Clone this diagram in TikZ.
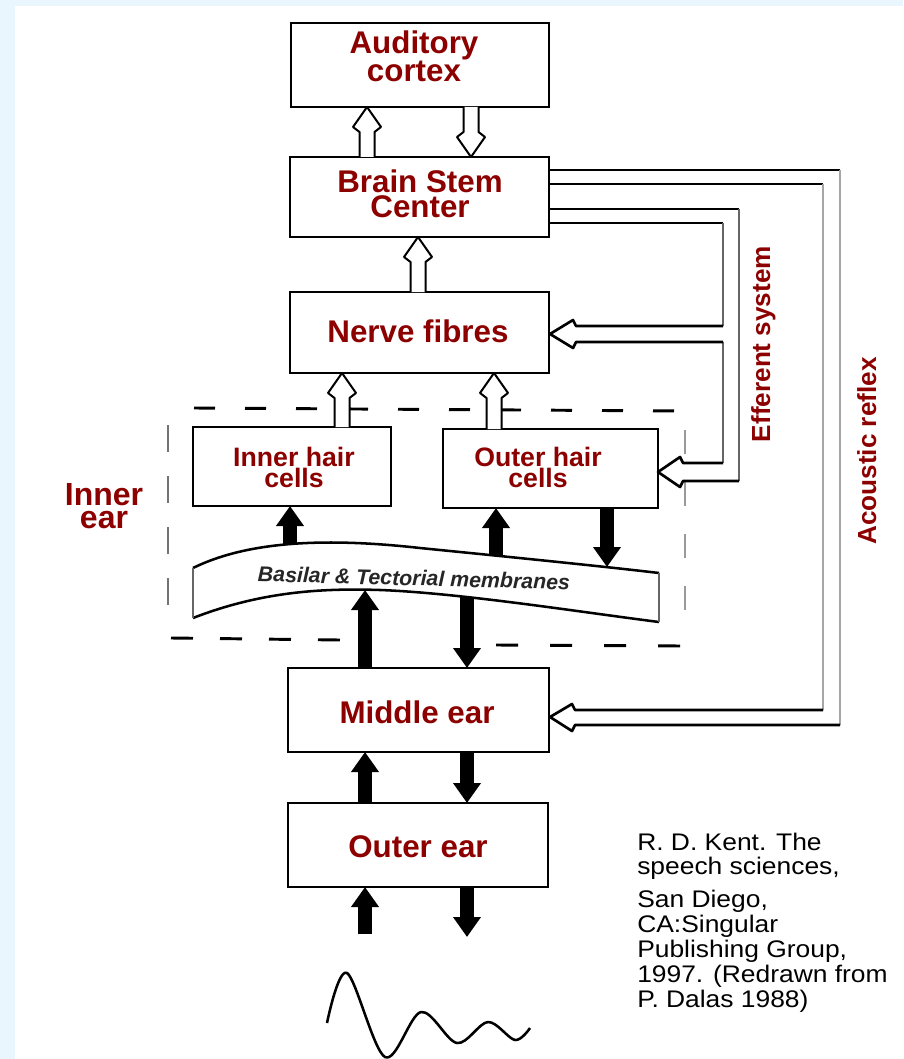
\documentclass[tikz,border=0pt]{standalone}
\usepackage{fontspec}
\setmainfont{Liberation Sans}
\newfontfamily\reffont[FakeStretch=1.1]{Liberation Sans}
\usetikzlibrary{arrows.meta}
\definecolor{ared}{RGB}{140,0,0}
\definecolor{bgblue}{RGB}{234,246,253}
\tikzset{
 box/.style={draw, line width=2pt, fill=white, inner sep=0pt},
 big/.style={font=\bfseries\fontsize{23.5}{18.75}\selectfont, text=ared, anchor=base, inner sep=0pt, align=center},
 mid/.style={font=\bfseries\fontsize{20}{15.75}\selectfont, text=ared, anchor=base, inner sep=0pt, align=center},
 side/.style={font=\bfseries\fontsize{19.6}{20}\selectfont, text=ared, anchor=base, inner sep=0pt, rotate=90},
 hollow/.style={draw=black, fill=white, line width=1.5pt, line join=round},
 conn/.style={line width=2pt, line join=round},
 vconn/.style={line width=1.2pt, draw=black!60},
 vconnl/.style={line width=1pt, draw=black!35},
 fillarrow/.style={line width=10.5pt, -{Triangle[length=15pt,width=20pt]}},
 dashh/.style={line width=2.2pt, dash pattern=on 15.75pt off 22.5pt},
 citetext/.style={font=\reffont\fontsize{18}{18}\selectfont, anchor=base west, inner sep=0pt},
}
\newcommand\hollowup[3]{%
 \filldraw[hollow] (#1-7.5,#2) -- (#1-7.5,#3+25) -- (#1-14,#3+20) -- (#1,#3) -- (#1+14,#3+20) -- (#1+7.5,#3+25) -- (#1+7.5,#2);}
\newcommand\hollowdown[3]{%
 \filldraw[hollow] (#1-7.5,#2) -- (#1-7.5,#3-25) -- (#1-14,#3-20) -- (#1,#3) -- (#1+14,#3-20) -- (#1+7.5,#3-25) -- (#1+7.5,#2);}
\begin{document}
\begin{tikzpicture}[x=0.75pt,y=-0.75pt]
\useasboundingbox (0,0) rectangle (903,1059);
\fill[bgblue] (0,0) rectangle (903,1059);
\fill[white] (15,6) rectangle (903,1059);

% dashed inner-ear frame
\draw[dashh] (194,408) -- (683,411);
\draw[line width=2.2pt, dash pattern=on 16.5pt off 20.25pt] (171,638) -- (340,640);
\draw[line width=2.2pt, dash pattern=on 16.5pt off 24pt] (496,645) -- (683,646);
\draw[line width=2pt, draw=black!55, dash pattern=on 20.25pt off 18pt] (168,425) -- (168,607);
\draw[line width=1.2pt, draw=black!40, dash pattern=on 18pt off 21pt] (685,430) -- (685,615);

% solid arrows
\draw[fillarrow] (290,556) -- (290,506);
\draw[fillarrow] (496,562) -- (496,508);
\draw[fillarrow] (607,508) -- (607,567);
\draw[fillarrow] (365,668) -- (365,590);
\draw[fillarrow] (467,585) -- (467,668);
\draw[fillarrow] (365,803) -- (365,752);
\draw[fillarrow] (467,752) -- (467,803);
\draw[fillarrow] (365,934) -- (365,887);
\draw[fillarrow] (467,887) -- (467,937);

% membrane
\coordinate (mem) at (426,585);
\fill[white] (193,568) .. controls (250,540) and (330,538) .. (420,548) .. controls (500,556) and (600,566) .. (659,573) -- (659,622) .. controls (580,612) and (460,593) .. (380,590) .. controls (320,588) and (260,592) .. (193,618) -- cycle;
\draw[line width=1.9pt] (193,568) .. controls (250,540) and (330,538) .. (420,548) .. controls (500,556) and (600,566) .. (659,573);
\draw[line width=1.9pt] (659,622) .. controls (580,612) and (460,593) .. (380,590) .. controls (320,588) and (260,592) .. (193,618);
\draw[line width=1.2pt, draw=black!60] (193,568) -- (193,618);
\draw[line width=1.2pt, draw=black!60] (659,573) -- (659,622);
\node[font=\bfseries\itshape\fontsize{16}{16}\selectfont, text=black!85, rotate=-1.5, inner sep=0pt] (memtext) at (414,578) {Basilar \& Tectorial membranes};

% boxes
\node[box, minimum width=193.5pt, minimum height=63pt] (ac) at (420,65) {};
\node[box, minimum width=194.25pt, minimum height=60pt] (bsc) at (419.5,197) {};
\node[box, minimum width=194.25pt, minimum height=60.75pt] (nf) at (419.5,332.5) {};
\node[box, minimum width=148.5pt, minimum height=59.25pt] (ihc) at (292,466.5) {};
\node[box, minimum width=161.25pt, minimum height=59.25pt] (ohc) at (550.5,468.5) {};
\node[box, minimum width=195.75pt, minimum height=63pt] (me) at (418.5,710) {};
\node[box, minimum width=195pt, minimum height=63pt] (oe) at (418,845) {};

% hollow arrows between boxes
\hollowup{367}{157}{107}
\hollowdown{471}{107}{157}
\hollowup{418}{292}{237}
\hollowup{342}{427}{373}
\hollowup{494}{429}{373}

% acoustic reflex
\draw[conn] (549,170) -- (840,170);
\draw[conn] (549,184) -- (823,184);
\draw[vconnl] (840,170) -- (840,725);
\draw[vconnl] (823,184) -- (823,710);
\draw[conn] (823,710) -- (575,710) -- (572,704) -- (550,717) -- (572,731) -- (575,725) -- (840,725);

% efferent system
\draw[conn] (549,209) -- (739,209);
\draw[conn] (549,223) -- (723,223);
\draw[vconn] (739,209) -- (739,481);
\draw[vconn] (723,223) -- (723,326);
\draw[vconn] (723,342) -- (723,463);
\draw[conn] (723,326) -- (576,326) -- (573,320) -- (550,334) -- (573,348) -- (576,342) -- (723,342);
\draw[conn] (723,463) -- (683,463) -- (680,457) -- (658,472) -- (680,487) -- (683,481) -- (739,481);

% wave
\draw[line width=1.9pt, line join=round] plot[smooth, tension=0.55] coordinates {(327,1023) (347,973) (385,1057) (421,1012) (457,1043) (488,1022) (515,1040) (530,1028)};

% labels
\node[big] (tac) at (414,82) {Auditory\\cortex};
\node[big] (tbs) at (420,218) {Brain Stem\\Center};
\node[big] (tnf) at (418,342) {Nerve fibres};
\node[mid] (tih) at (294,487) {Inner hair\\cells};
\node[mid] (toh) at (538,487) {Outer hair\\cells};
\node[big, font=\bfseries\fontsize{24}{17.25}\selectfont] (tie) at (104,528) {Inner\\ear};
\node[big] (tme) at (417,723) {Middle ear};
\node[big] (toe) at (418,857) {Outer ear};
\node[side] (teff) at (770,344) {Efferent system};
\node[side] (tacr) at (876,451) {Acoustic reflex};

% citation
\node[citetext] (c1) at (637,850) {R. D. Kent. The};
\node[citetext] (c2) at (637,874) {speech sciences,};
\node[citetext] (c3) at (637,907) {San Diego,};
\node[citetext] (c4) at (637,932) {CA:Singular};
\node[citetext] (c5) at (637,957) {Publishing Group,};
\node[citetext] (c6) at (637,982) {1997. (Redrawn from};
\node[citetext] (c7) at (637,1007) {P. Dalas 1988)};
\end{tikzpicture}
\end{document}
